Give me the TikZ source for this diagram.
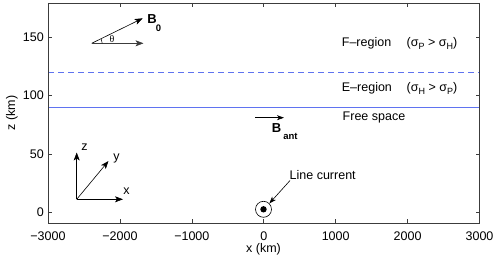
\documentclass[tikz,border=0pt]{standalone}
\usepackage{fontspec}
\setmainfont{Liberation Sans}
\newfontfamily\serifgr{Liberation Serif}
\usetikzlibrary{arrows.meta}
\definecolor{mlblue}{RGB}{95,115,240}
\definecolor{axgray}{RGB}{60,60,60}
\tikzset{
  axbox/.style={draw=axgray,line width=0.7pt},
  tick/.style={draw=axgray,line width=0.6pt},
  ticklab/.style={font=\fontsize{12.5}{14}\selectfont,inner sep=0pt},
  lab/.style={font=\fontsize{12.5}{14}\selectfont,inner sep=0pt},
  arr/.style={line width=0.6pt,-{Stealth[length=8pt,width=6pt,inset=2pt]}},
  sarr/.style={line width=0.6pt,-{Stealth[length=7pt,width=5pt,inset=2pt]}},
  bline/.style={draw=mlblue,line width=0.9pt},
}
\newcommand{\sub}[1]{\raisebox{-0.45ex}{\fontsize{9}{9}\selectfont #1}}
\begin{document}
\begin{tikzpicture}[x=1pt,y=-1pt]
\useasboundingbox (0,0) rectangle (498,259);
% layer boundaries
\coordinate (eL) at (48,72); \coordinate (eR) at (479.5,72);
\coordinate (fL) at (48,107.2); \coordinate (fR) at (479.5,107.2);
\draw[bline,dash pattern=on 6pt off 4pt] (eL) -- (eR);
\draw[bline] (fL) -- (fR);
% axes box
\draw[axbox] (48,3) rectangle (479.5,223);
% x ticks
\foreach \v [count=\i from 0] in {−3000,−2000,−1000,0,1000,2000,3000}{
  \pgfmathsetmacro{\xx}{48+71.92*\i}
  \draw[tick] (\xx,223) -- (\xx,219);
  \draw[tick] (\xx,3) -- (\xx,7);
  \node[ticklab] (xt\i) at (\xx,236) {\v};
}
% z ticks
\foreach \v [count=\i from 0] in {0,50,100,150}{
  \pgfmathsetmacro{\yy}{212.3-58.33*\i}
  \draw[tick] (48,\yy) -- (52,\yy);
  \draw[tick] (479.5,\yy) -- (475.5,\yy);
  \node[ticklab,anchor=east] (zt\i) at (44,\yy) {\v};
}
\node[lab] (xlab) at (263.5,249) {x (km)};
\node[lab,rotate=90] (zlab) at (12,113) {z (km)};
% B0
\coordinate (bo) at (91.7,43.3);
\coordinate (bt) at (142.7,18.3);
\coordinate (ht) at (143.5,43.3);
\draw[arr] (bo) -- (bt);
\draw[arr,draw=axgray] (bo) -- (ht);
\draw[line width=0.5pt] (bo) ++(10.5,0) arc[start angle=0,end angle=-26,radius=10.5];
\node[inner sep=0pt,font=\serifgr\fontsize{10}{10}\selectfont] (th) at (112,39.5) {θ};
\node[inner sep=0pt,font=\bfseries\fontsize{13}{13}\selectfont] (B0) at (152,19.5) {B};
\node[inner sep=0pt,font=\bfseries\fontsize{9.5}{10}\selectfont] (B0s) at (158.5,28.5) {0};
% region labels
\node[lab,anchor=west] (F) at (341.7,43) {F–region};
\node[lab,anchor=west] (Fs) at (406.5,43) {(σ\sub{P} > σ\sub{H})};
\node[lab,anchor=west] (E) at (341.7,88) {E–region};
\node[lab,anchor=west] (Es) at (406.5,88) {(σ\sub{H} > σ\sub{P})};
\node[lab,anchor=west] (FS) at (342.5,117) {Free space};
% B_ant
\coordinate (ba0) at (255,117.7);
\coordinate (ba1) at (284,117.7);
\draw[sarr] (ba0) -- (ba1);
\node[inner sep=0pt,font=\bfseries\fontsize{13}{13}\selectfont] (Ba) at (276.5,128) {B};
\node[inner sep=0pt,font=\bfseries\fontsize{9.5}{10}\selectfont] (Bas) at (290.5,136.5) {ant};
% coordinate triad
\coordinate (o) at (76.7,199.3);
\coordinate (tz) at (76.7,152.5);
\coordinate (tx) at (123,199.3);
\coordinate (ty) at (108.5,161);
\draw[arr] (o) -- (tz);
\draw[arr] (o) -- (tx);
\draw[arr] (o) -- (ty);
\node[lab] (lz) at (84.5,147) {z};
\node[lab] (ly) at (116.5,158.5) {y};
\node[lab] (lx) at (126.5,191) {x};
% line current
\node[draw,circle,minimum size=16pt,inner sep=0pt,line width=0.6pt] (lc) at (263.5,209.3) {};
\fill (lc.center) circle (3.2pt);
\node[lab,anchor=west] (lct) at (289.5,175) {Line current};
\coordinate (la) at (290,180.5);
\draw[sarr] (la) -- (lc.north east);
\end{tikzpicture}
\end{document}
